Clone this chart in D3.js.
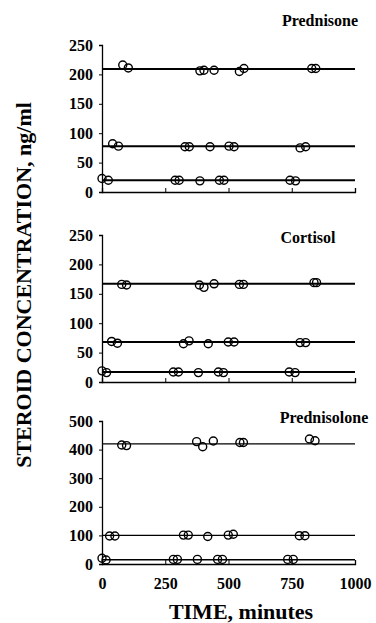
<!DOCTYPE html>
<html>
<head>
<meta charset="utf-8">
<script src="https://cdn.jsdelivr.net/npm/d3@7"></script>
<style>
  body { margin: 0; background: #fff; }
  text { font-family: "Liberation Serif", "DejaVu Serif", serif; font-weight: bold; fill: #000; }
</style>
</head>
<body>
<div id="chart-area"></div>
<script>
// data: [time (min), concentration (ng/ml)]
const prednisoneFit = [209, 78, 20]
const prednisoneHigh = [[82,216],[104,211],[387,206],[403,207],[443,207],[543,205],[561,210],[829,210],[845,210]]
const prednisoneMid = [[42,82],[65,78],[328,77],[345,77],[427,77],[502,78],[522,77],[783,75],[805,77]]
const prednisoneLow = [[0,23],[25,20],[289,20],[305,20],[387,19],[464,20],[482,20],[743,20],[765,19]]

const cortisolFit = [167, 68, 17]
const cortisolHigh = [[78,166],[97,165],[385,165],[403,161],[443,167],[543,166],[559,166],[838,169],[848,169]]
const cortisolMid = [[38,69],[61,66],[322,65],[344,70],[420,65],[499,68],[522,68],[783,67],[805,67]]
const cortisolLow = [[0,19],[18,16],[282,17],[302,17],[381,16],[460,17],[480,16],[740,17],[763,16]]

const prednisoloneFit = [420, 100, 15]
const prednisoloneHigh = [[78,416],[97,414],[374,428],[398,410],[440,430],[545,425],[559,425],[820,437],[842,431]]
const prednisoloneMid = [[30,98],[51,98],[322,101],[341,101],[418,96],[499,101],[519,104],[780,99],[802,99]]
const prednisoloneLow = [[0,20],[16,14],[282,16],[298,16],[377,16],[457,16],[476,16],[734,16],[756,16]]

const xTicks = [0, 250, 500, 750, 1000]
const yTicks250 = [0, 50, 100, 150, 200, 250]
const yTicks500 = [0, 100, 200, 300, 400, 500]

const panels = [
  { title: "Prednisone", fit: prednisoneFit, pts: [prednisoneHigh, prednisoneMid, prednisoneLow],
    ymax: 250, ticks: yTicks250, top: 45, bottom: 192, tx: 320, ty: 26, lw: 2 },
  { title: "Cortisol", fit: cortisolFit, pts: [cortisolHigh, cortisolMid, cortisolLow],
    ymax: 250, ticks: yTicks250, top: 235, bottom: 382, tx: 308, ty: 243, lw: 2 },
  { title: "Prednisolone", fit: prednisoloneFit, pts: [prednisoloneHigh, prednisoloneMid, prednisoloneLow],
    ymax: 500, ticks: yTicks500, top: 421, bottom: 564, tx: 324, ty: 423, lw: 1.4 }
]

const svg = d3.select("#chart-area").append("svg")
  .attr("width", 376)
  .attr("height", 623)

const xScale = d3.scaleLinear().domain([0, 1000]).range([102, 355])

panels.forEach((p, i) => {
  const yScale = d3.scaleLinear().domain([0, p.ymax]).range([p.bottom, p.top])
  const g = svg.append("g")

  // axes
  const yAxis = d3.axisLeft(yScale).tickValues(p.ticks).tickSize(3).tickPadding(6)
  g.append("g").attr("transform", "translate(102,0)").call(yAxis)
  const xAxis = d3.axisBottom(xScale).tickValues(xTicks).tickFormat(d3.format("d"))
    .tickSize(-4).tickPadding(14)
  const xg = g.append("g").attr("transform", `translate(0,${p.bottom})`).call(xAxis)
  if (i < 2) xg.selectAll(".tick text").remove()

  g.selectAll(".domain").attr("stroke", "#000").attr("stroke-width", 1.3)
  g.selectAll(".tick line").attr("stroke", "#000")
  g.selectAll(".tick text").style("font-size", "16px").attr("fill", "#000")

  // fitted lines
  g.selectAll(".fit").data(p.fit).enter().append("line")
    .attr("class", "fit")
    .attr("x1", xScale(0)).attr("x2", xScale(1000))
    .attr("y1", d => yScale(d)).attr("y2", d => yScale(d))
    .attr("stroke", "#000")
    .attr("stroke-width", p.lw)

  // observed points
  p.pts.forEach(series => {
    g.selectAll(null).data(series).enter().append("circle")
      .attr("cx", d => xScale(d[0]))
      .attr("cy", d => yScale(d[1]))
      .attr("r", 4)
      .attr("fill", "none")
      .attr("stroke", "#000")
      .attr("stroke-width", 1.4)
  })

  g.append("text")
    .attr("x", p.tx).attr("y", p.ty)
    .attr("text-anchor", "middle")
    .style("font-size", "16px")
    .text(p.title)
})

svg.append("text")
  .attr("x", 241).attr("y", 619)
  .attr("text-anchor", "middle")
  .style("font-size", "22px")
  .text("TIME, minutes")

svg.append("text")
  .attr("transform", "translate(31,285) rotate(-90)")
  .attr("text-anchor", "middle")
  .style("font-size", "22px")
  .text("STEROID CONCENTRATION, ng/ml")
</script>
</body>
</html>
